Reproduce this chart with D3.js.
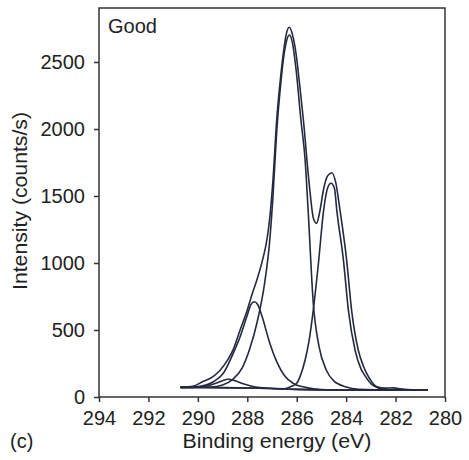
<!DOCTYPE html>
<html>
<head>
<meta charset="utf-8">
<script src="https://cdn.jsdelivr.net/npm/d3@7"></script>
<style>
  html, body { margin: 0; padding: 0; background: #fff; }
  svg text { font-family: "Liberation Sans", Arial, sans-serif; fill: #222; }
</style>
</head>
<body>
<svg id="chart" width="469" height="460"></svg>
<script>
'use strict';

// C 1s spectrum: [binding energy (eV), counts/s]
const xTicks = [294, 292, 290, 288, 286, 284, 282, 280];
const yTicks = [0, 500, 1000, 1500, 2000, 2500];

const background = [
  [290.7, 72], [289, 70], [288, 67], [287, 63], [286, 57], [285, 54],
  [284, 52], [283, 51], [282, 51], [280.7, 50]
];

const envelope = [
  [290.7, 74], [290.2, 80], [289.8, 115], [289.4, 150], [289.1, 200], [288.8, 275],
  [288.58, 350], [288.3, 495], [288.0, 650], [287.8, 770], [287.6, 880], [287.4, 1010],
  [287.2, 1180], [287.1, 1320], [286.96, 1620], [286.81, 2067], [286.65, 2390],
  [286.54, 2567], [286.42, 2710], [286.3, 2759], [286.18, 2710], [286.03, 2567],
  [285.88, 2330], [285.73, 2067], [285.5, 1600], [285.32, 1330], [285.2, 1296],
  [285.06, 1390], [284.92, 1545], [284.75, 1650], [284.58, 1674], [284.42, 1600],
  [284.25, 1396], [283.98, 1022], [283.78, 649], [283.51, 351], [283.3, 230],
  [283.17, 177], [282.95, 110], [282.76, 77], [282.4, 66], [282.1, 68],
  [281.95, 65], [281.5, 56], [280.7, 52]
];

const peakC1 = [ // ~286.3 eV
  [290.7, 72], [289.5, 75], [289.0, 90], [288.6, 130], [288.2, 220], [287.9, 360],
  [287.6, 560], [287.28, 873], [287.1, 1150], [286.96, 1500], [286.81, 1980],
  [286.65, 2330], [286.54, 2520], [286.42, 2650], [286.3, 2701], [286.18, 2650],
  [286.03, 2450], [285.83, 2067], [285.66, 1769], [285.54, 1400], [285.33, 700],
  [285.1, 380], [284.8, 200], [284.5, 120], [284.0, 75], [283.5, 58], [282, 51],
  [280.7, 50]
];

const peakC2 = [ // ~284.6 eV
  [290.7, 72], [288, 67], [287, 63], [286.5, 62], [286.2, 80], [286.0, 102],
  [285.87, 150], [285.66, 276], [285.5, 420], [285.33, 649], [285.12, 1000],
  [284.92, 1380], [284.75, 1560], [284.61, 1595], [284.47, 1555], [284.38, 1396],
  [284.11, 1022], [283.91, 649], [283.64, 351], [283.4, 210], [283.24, 160],
  [283.0, 100], [282.83, 77], [282.5, 58], [282.0, 52], [280.7, 50]
];

const peakC3 = [ // ~287.7 eV
  [290.7, 72], [290.05, 77], [289.37, 114], [288.97, 177], [288.57, 326],
  [288.29, 450], [288.02, 600], [287.85, 690], [287.72, 711], [287.58, 690],
  [287.4, 600], [287.12, 420], [286.8, 260], [286.5, 160], [286.14, 102],
  [285.6, 70], [285.0, 56], [284, 52], [280.7, 50]
];

const peakC4 = [ // ~288.8 eV
  [290.7, 72], [290.0, 74], [289.64, 82], [289.3, 100], [289.0, 122], [288.78, 132],
  [288.5, 122], [288.2, 100], [287.89, 84], [287.5, 70], [287, 64], [286, 57],
  [284, 52], [280.7, 50]
];

const curves = [background, peakC4, peakC3, peakC2, peakC1, envelope];

const svg = d3.select('#chart');
const plotL = 99, plotR = 445, plotT = 8, plotB = 397;

const x = d3.scaleLinear().domain([294, 280]).range([plotL, plotR]);
const y = d3.scaleLinear().domain([0, (plotB - plotT) / 0.134]).range([plotB, plotT]);

const line = d3.line()
  .x(d => x(d[0]))
  .y(d => y(d[1]))
  .curve(d3.curveMonotoneX);

// curves
svg.append('g')
  .selectAll('path')
  .data(curves)
  .join('path')
  .attr('d', line)
  .attr('fill', 'none')
  .attr('stroke', '#252940')
  .attr('stroke-width', 1.6)
  .attr('stroke-linejoin', 'round');

// axes
const xAxis = svg.append('g')
  .attr('transform', 'translate(0,' + plotB + ')')
  .call(d3.axisBottom(x).tickValues(xTicks).tickFormat(d3.format('d')).tickSize(5).tickPadding(9));
const yAxis = svg.append('g')
  .attr('transform', 'translate(' + plotL + ',0)')
  .call(d3.axisLeft(y).tickValues(yTicks).tickFormat(d3.format('d')).tickSize(5).tickPadding(9));

[xAxis, yAxis].forEach(g => {
  g.select('.domain').remove();
  g.selectAll('line').attr('stroke', '#333').attr('stroke-width', 1.5);
  g.selectAll('text')
    .style('font-family', '"Liberation Sans", Arial, sans-serif')
    .style('font-size', '20px')
    .attr('fill', '#222');
});

// frame
svg.append('rect')
  .attr('x', plotL).attr('y', plotT)
  .attr('width', plotR - plotL).attr('height', plotB - plotT)
  .attr('fill', 'none')
  .attr('stroke', '#333')
  .attr('stroke-width', 1.5);

// labels
svg.append('text')
  .attr('x', 108).attr('y', 33)
  .style('font-size', '20px')
  .text('Good');

svg.append('text')
  .attr('x', 277).attr('y', 448)
  .attr('text-anchor', 'middle')
  .attr('textLength', 189)
  .attr('lengthAdjust', 'spacingAndGlyphs')
  .style('font-size', '20px')
  .text('Binding energy (eV)');

svg.append('text')
  .attr('x', 10).attr('y', 448)
  .style('font-size', '20px')
  .text('(c)');

svg.append('text')
  .attr('transform', 'translate(27,201) rotate(-90)')
  .attr('text-anchor', 'middle')
  .attr('textLength', 178)
  .attr('lengthAdjust', 'spacingAndGlyphs')
  .style('font-size', '19.5px')
  .text('Intensity (counts/s)');
</script>
</body>
</html>
